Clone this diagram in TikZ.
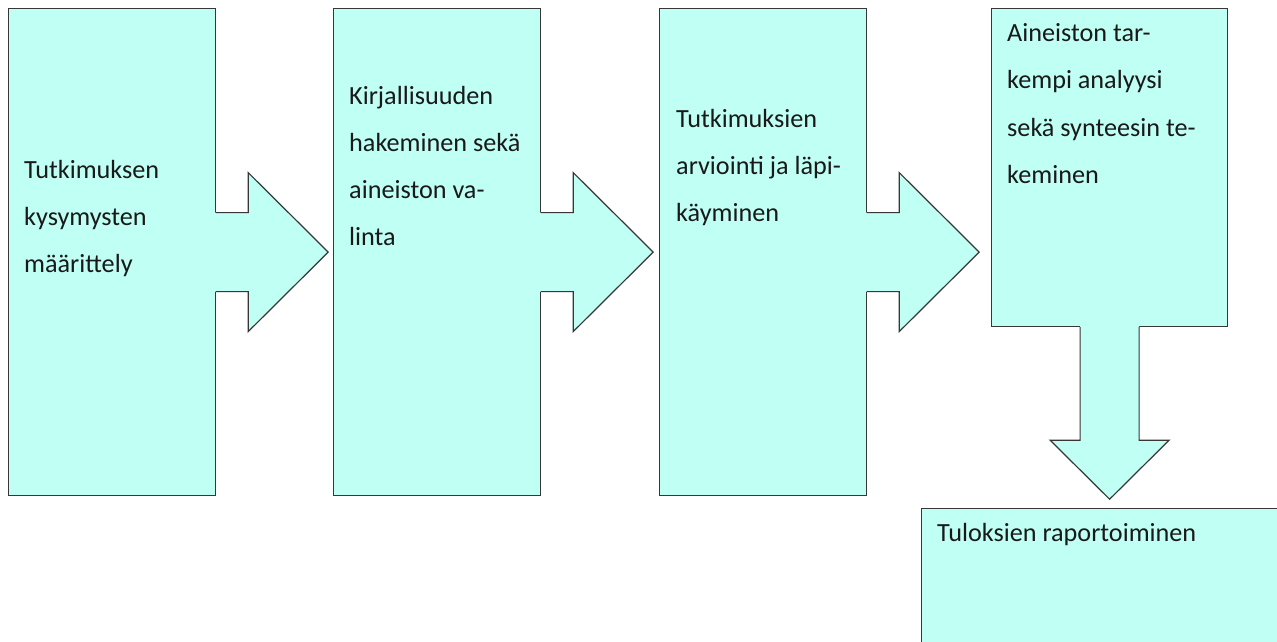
\documentclass[tikz,border=0pt]{standalone}
\usepackage{fontspec}
\setmainfont{Carlito}
\definecolor{boxfill}{RGB}{191,255,244}
\definecolor{edge}{RGB}{55,55,55}
\definecolor{ink}{RGB}{25,25,25}
\begin{document}
\begin{tikzpicture}[x=1pt,y=-1pt,
  box/.style={draw=edge,fill=boxfill,line width=1.2pt,anchor=north west,inner sep=0pt,minimum width=207pt},
  label/.style={anchor=north west,inner sep=0pt,align=left,text=ink,font=\fontsize{26.2}{47.2}\selectfont},
  rightblock/.pic={
    \fill[boxfill] (-1,-39.5) -- (32,-39.5) -- (32,-79.5) -- (112,0) -- (32,79.5) -- (32,39.5) -- (-1,39.5) -- cycle;
    \draw[edge,line width=1.2pt,line join=miter] (0,-39.5) -- (32,-39.5) -- (32,-79.5) -- (112,0) -- (32,79.5) -- (32,39.5) -- (0,39.5);
  },
  downblock/.pic={
    \fill[boxfill] (-29.5,-1) -- (-29.5,113) -- (-59.5,113) -- (0,172) -- (59.5,113) -- (29.5,113) -- (29.5,-1) -- cycle;
    \draw[edge,line width=1.2pt,line join=miter] (-29.5,0) -- (-29.5,113) -- (-59.5,113) -- (0,172) -- (59.5,113) -- (29.5,113) -- (29.5,0);
  }]
\useasboundingbox (0,0) rectangle (1277,641);
\clip (0,0) rectangle (1277,641);
\fill[white] (0,0) rectangle (1277,641);

\node[box,minimum height=487pt] (b1) at (8,8) {};
\node[box,minimum height=487pt] (b2) at (333,8) {};
\node[box,minimum height=487pt] (b3) at (659,8) {};
\node[box,minimum width=236pt,minimum height=318pt] (b4) at (991,8) {};
\node[box,minimum width=380pt,minimum height=160pt] (b5) at (921,508) {};

\pic at (b1.east) {rightblock};
\pic at (b2.east) {rightblock};
\pic at (b3.east) {rightblock};
\pic at (b4.south) {downblock};

\node[label] (t1) at (24,145.1) {\strut Tutkimuksen\\kysymysten\\määrittely};
\node[label] (t2) at (349,71.1) {\strut Kirjallisuuden\\hakeminen sekä\\aineiston va-\\linta};
\node[label] (t3) at (676,93.9) {\strut Tutkimuksien\\arviointi ja läpi-\\käyminen};
\node[label] (t4) at (1007,8.5) {\strut Aineiston tar-\\kempi analyysi\\sekä synteesin te-\\keminen};
\node[label] (t5) at (937,508) {\strut Tuloksien raportoiminen};
\end{tikzpicture}
\end{document}
